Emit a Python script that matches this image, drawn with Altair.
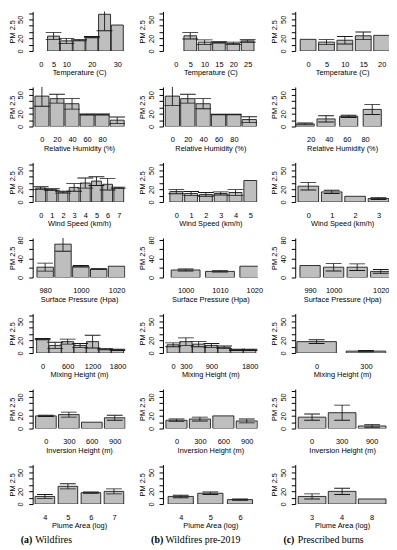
import altair as alt
import pandas as pd

# ---------------- data ----------------
# Row 1: Temperature (C)
temp_a_x = [5, 10, 15, 20, 25, 30]
temp_a_mean = [23.5, 16, 17, 22, 58, 41]
temp_a_err = [5.5, 4, 1, 1, 26, None]
temp_a_ticks = [0, 5, 10, 20, 30]

temp_b_x = [5, 10, 15, 20, 25]
temp_b_mean = [24, 14, 13.7, 12, 15.8]
temp_b_err = [5, 3.5, 1, 2, 2]
temp_b_ticks = [0, 5, 10, 15, 20, 25]

temp_c_x = [0, 5, 10, 15, 20]
temp_c_mean = [18.4, 14, 17, 24, 24.7]
temp_c_err = [None, 4, 6, 6, None]
temp_c_ticks = [0, 5, 10, 15, 20]

# Row 2: Relative Humidity (%)
rh_a_x = [0, 20, 40, 60, 80, 100]
rh_a_mean = [48, 44, 36, 19, 19, 10]
rh_a_err = [16, 7, 8.5, 1, 1, 5]
rh_a_ticks = [0, 20, 40, 60, 80]

rh_b_x = [0, 20, 40, 60, 80, 100]
rh_b_mean = [48, 44, 36, 19, 19, 11]
rh_b_err = [15, 7, 8, 0.6, 0.6, 4.5]
rh_b_ticks = [0, 20, 40, 60, 80]

rh_c_x = [14, 37, 62, 88]
rh_c_mean = [4, 12, 16, 27]
rh_c_err = [1.5, 5, 1.8, 8]
rh_c_ticks = [20, 40, 60, 80]

# Row 3: Wind Speed (km/h)
ws_a_x = [0, 1, 2, 3, 4, 5, 6, 7]
ws_a_mean = [22, 19.5, 15.5, 23, 30, 33, 28, 22.5]
ws_a_err = [2, 1.5, 1.5, 6, 8, 7, 9, 1]
ws_a_ticks = [0, 1, 2, 3, 4, 5, 6, 7]

ws_b_x = [0, 1, 2, 3, 4, 5]
ws_b_mean = [16.5, 13.5, 12, 13.5, 15, 34]
ws_b_err = [3.5, 3, 3, 2.5, 4.5, None]
ws_b_ticks = [0, 1, 2, 3, 4, 5]

ws_c_x = [0, 1, 2, 3]
ws_c_mean = [25, 16, 9, 5.5]
ws_c_err = [6, 2.5, None, 1.5]
ws_c_ticks = [0, 1, 2, 3]

# Row 4: Surface Pressure (Hpa)
sp_a_x = [980, 990, 1000, 1010, 1020]
sp_a_mean = [22, 71, 24, 18, 24]
sp_a_err = [8.5, 15, 1.5, 0.7, None]
sp_a_ticks = [980, 1000, 1020]

sp_b_x = [1000, 1010, 1020]
sp_b_mean = [16, 13, 24]
sp_b_err = [2, 1.5, None]
sp_b_ticks = [1000, 1010, 1020]

sp_c_x = [990, 1000, 1010, 1020]
sp_c_mean = [25.5, 22, 22, 13]
sp_c_err = [None, 8, 7, 4]
sp_c_ticks = [990, 1000, 1020]

# Row 5: Mixing Height (m)
mh_a_x = [0, 300, 600, 900, 1200, 1500, 1800]
mh_a_mean = [22, 12, 18, 12, 18, 6, 5]
mh_a_err = [1, 5, 4, 3, 10, 1, 1]
mh_a_ticks = [0, 600, 1200, 1800]

mh_b_x = [0, 300, 600, 900, 1200, 1500, 1800]
mh_b_mean = [13, 18, 14, 12, 9, 5, 5]
mh_b_err = [3, 6, 4, 3, 2, 1, 1]
mh_b_ticks = [0, 300, 900, 1800]

mh_c_x = [0, 300]
mh_c_mean = [18, 3]
mh_c_err = [3, 1]
mh_c_ticks = [0, 300]

# Row 6: Inversion Height (m)
ih_a_x = [0, 300, 600, 900]
ih_a_mean = [20, 22, 10, 17]
ih_a_err = [1, 4, None, 4]
ih_a_ticks = [0, 300, 600, 900]

ih_b_x = [0, 300, 600, 900]
ih_b_mean = [13, 15, 20, 12]
ih_b_err = [2, 3, None, 3]
ih_b_ticks = [0, 300, 600, 900]

ih_c_x = ["0", "300", "900"]
ih_c_mean = [18, 25, 4]
ih_c_err = [5, 12, 2]
ih_c_ticks = ["0", "300", "900"]

# Row 7: Plume Area (log)
pa_a_x = [4, 5, 6, 7]
pa_a_mean = [12, 28, 18, 20]
pa_a_err = [3, 4, 1, 4]
pa_a_ticks = [4, 5, 6, 7]

pa_b_x = [4, 5, 6]
pa_b_mean = [12, 17, 7]
pa_b_err = [2, 2, 1]
pa_b_ticks = [4, 5, 6]

pa_c_x = ["3", "4", "8"]
pa_c_mean = [12, 20, 8]
pa_c_err = [4, 5, None]
pa_c_ticks = ["3", "4", "8"]

captions = [("(a)", "Wildfires"), ("(b)", "Wildfires pre-2019"), ("(c)", "Prescribed burns")]

# ---------------- chart ----------------
FONT = "Liberation Sans"
SERIF = "Liberation Serif"
FS = 7.5
H = 40
WIDTHS = [94, 96, 95]
Y60 = dict(ymax=62.4, yticks=[0, 10, 20, 30, 40, 50, 60], ylabs=[0, 20, 50])
Y80 = dict(ymax=84, yticks=[0, 20, 40, 60, 80], ylabs=[0, 40, 80])
INK = "#1a1a1a"


def panel(xs, means, errs, ticks, bw, xdom, xtitle, width, ymax, yticks, ylabs):
    df = pd.DataFrame({"x": xs, "m": means, "e": errs})
    categorical = xdom is None
    common = dict(title=xtitle, domain=False, ticks=False, tickSize=0, grid=False,
                  labelPadding=9.5, labelFlush=False, labelOverlap=False,
                  labelFont=FONT, labelFontSize=FS, labelColor="black",
                  titleFont=FONT, titleFontSize=FS, titleFontWeight="normal",
                  titleColor="black", titlePadding=1, labelAngle=0)
    if categorical:
        xsc = alt.Scale(domain=xs, paddingInner=0.08, paddingOuter=0.1)
        xax = alt.Axis(values=ticks, **common)
        xtype = "N"
    else:
        xsc = alt.Scale(domain=xdom, nice=False, zero=False)
        xax = alt.Axis(values=ticks, format="d", **common)
        xtype = "Q"
    ysc = alt.Scale(domain=[0, ymax], nice=False, zero=False)
    lab_list = "[" + ",".join(str(v) for v in ylabs) + "]"
    yax = alt.Axis(values=yticks, title="PM 2.5", grid=False,
                   labelExpr=f"indexof({lab_list}, datum.value) >= 0 ? datum.label : ''",
                   labelAngle=270, labelAlign="center", labelBaseline="bottom",
                   labelPadding=4, tickSize=4, tickColor="black", domainColor="black",
                   labelFont=FONT, labelFontSize=FS, labelColor="black",
                   titleFont=FONT, titleFontSize=FS, titleFontWeight="normal",
                   titleColor="black", titlePadding=1, minExtent=15.5, maxExtent=15.5,
                   labelOverlap=False, labelFlush=False)
    base = alt.Chart(df)
    if categorical:
        bars = base.mark_bar(fill="#bebebe", stroke=INK, strokeWidth=0.9, clip=True).encode(
            x=alt.X(f"x:{xtype}", scale=xsc, axis=xax, sort=None),
            y=alt.Y("m:Q", scale=ysc, axis=yax),
            y2=alt.datum(0),
        )
    else:
        bars = base.transform_calculate(
            x0=f"datum.x - {bw / 2}", x1=f"datum.x + {bw / 2}"
        ).mark_bar(fill="#bebebe", stroke=INK, strokeWidth=0.9, clip=True).encode(
            x=alt.X("x0:Q", scale=xsc, axis=xax),
            x2="x1:Q",
            y=alt.Y("m:Q", scale=ysc, axis=yax),
            y2=alt.datum(0),
        )
    eb = base.transform_filter("isValid(datum.e)").transform_calculate(
        lo="datum.m - datum.e", hi="datum.m + datum.e")
    xenc = alt.X(f"x:{xtype}", scale=xsc, axis=xax, sort=None)
    vline = eb.mark_rule(color=INK, strokeWidth=0.9, clip=True).encode(
        x=xenc,
        y=alt.Y("lo:Q", scale=ysc, axis=yax),
        y2="hi:Q",
    )
    caps = [
        eb.mark_tick(orient="horizontal", size=16, thickness=0.9, color=INK,
                     clip=True, opacity=1).encode(
            x=xenc,
            y=alt.Y(f"{f}:Q", scale=ysc, axis=yax),
        )
        for f in ("lo", "hi")
    ]
    return alt.layer(bars, vline, *caps).properties(width=width, height=H)


rows = [
    [
        (temp_a_x, temp_a_mean, temp_a_err, temp_a_ticks, 4.7, [-3.2, 33.2], "Temperature (C)", Y60),
        (temp_b_x, temp_b_mean, temp_b_err, temp_b_ticks, 4.4, [-4.5, 28.5], "Temperature (C)", Y60),
        (temp_c_x, temp_c_mean, temp_c_err, temp_c_ticks, 4.3, [-3.5, 22.0], "Temperature (C)", Y60),
    ],
    [
        (rh_a_x, rh_a_mean, rh_a_err, rh_a_ticks, 18.5, [-12.3, 111], "Relative Humidity (%)", Y60),
        (rh_b_x, rh_b_mean, rh_b_err, rh_b_ticks, 18.5, [-12.3, 111], "Relative Humidity (%)", Y60),
        (rh_c_x, rh_c_mean, rh_c_err, rh_c_ticks, 20, [3, 106.5], "Relative Humidity (%)", Y60),
    ],
    [
        (ws_a_x, ws_a_mean, ws_a_err, ws_a_ticks, 0.88, [-0.72, 7.6], "Wind Speed (km/h)", Y60),
        (ws_b_x, ws_b_mean, ws_b_err, ws_b_ticks, 0.87, [-0.9, 5.5], "Wind Speed (km/h)", Y60),
        (ws_c_x, ws_c_mean, ws_c_err, ws_c_ticks, 0.88, [-0.56, 3.45], "Wind Speed (km/h)", Y60),
    ],
    [
        (sp_a_x, sp_a_mean, sp_a_err, sp_a_ticks, 9.2, [973, 1025], "Surface Pressure (Hpa)", Y80),
        (sp_b_x, sp_b_mean, sp_b_err, sp_b_ticks, 8.4, [993.4, 1021], "Surface Pressure (Hpa)", Y80),
        (sp_c_x, sp_c_mean, sp_c_err, sp_c_ticks, 8.6, [983.7, 1023.5], "Surface Pressure (Hpa)", Y80),
    ],
    [
        (mh_a_x, mh_a_mean, mh_a_err, mh_a_ticks, 290, [-240, 1990], "Mixing Height (m)", Y60),
        (mh_b_x, mh_b_mean, mh_b_err, mh_b_ticks, 290, [-240, 1990], "Mixing Height (m)", Y60),
        (mh_c_x, mh_c_mean, mh_c_err, mh_c_ticks, 240, [-130, 440], "Mixing Height (m)", Y60),
    ],
    [
        (ih_a_x, ih_a_mean, ih_a_err, ih_a_ticks, 270, [-173, 1040], "Inversion Height (m)", Y60),
        (ih_b_x, ih_b_mean, ih_b_err, ih_b_ticks, 270, [-173, 1040], "Inversion Height (m)", Y60),
        (ih_c_x, ih_c_mean, ih_c_err, ih_c_ticks, None, None, "Inversion Height (m)", Y60),
    ],
    [
        (pa_a_x, pa_a_mean, pa_a_err, pa_a_ticks, 0.85, [3.47, 7.5], "Plume Area (log)", Y60),
        (pa_b_x, pa_b_mean, pa_b_err, pa_b_ticks, 0.85, [3.4, 6.6], "Plume Area (log)", Y60),
        (pa_c_x, pa_c_mean, pa_c_err, pa_c_ticks, None, None, "Plume Area (log)", Y60),
    ],
]

cells = []
for row in rows:
    for j, (xs, ms, es, tk, bw, xd, xt, yopt) in enumerate(row):
        cells.append(panel(xs, ms, es, tk, bw, xd, xt, WIDTHS[j], **yopt))

for j, (tag, name) in enumerate(captions):
    cdf = pd.DataFrame({"tag": [tag], "name": [name]})
    cb = alt.Chart(cdf)
    t1 = cb.mark_text(font=SERIF, fontSize=10, fontWeight="bold", align="left",
                      baseline="middle", color="black").encode(
        x=alt.value(-12), y=alt.value(0), text="tag:N")
    t2 = cb.mark_text(font=SERIF, fontSize=10, align="left",
                      baseline="middle", color="black").encode(
        x=alt.value(2.5), y=alt.value(0), text="name:N")
    cells.append(alt.layer(t1, t2).properties(width=WIDTHS[j], height=1))

chart = alt.concat(*cells, columns=3, spacing={"row": 36.5, "column": 38},
                   bounds="flush").properties(padding=0).configure_view(stroke=None)

chart.save("out.html", embed_options={"renderer": "svg", "actions": False})
